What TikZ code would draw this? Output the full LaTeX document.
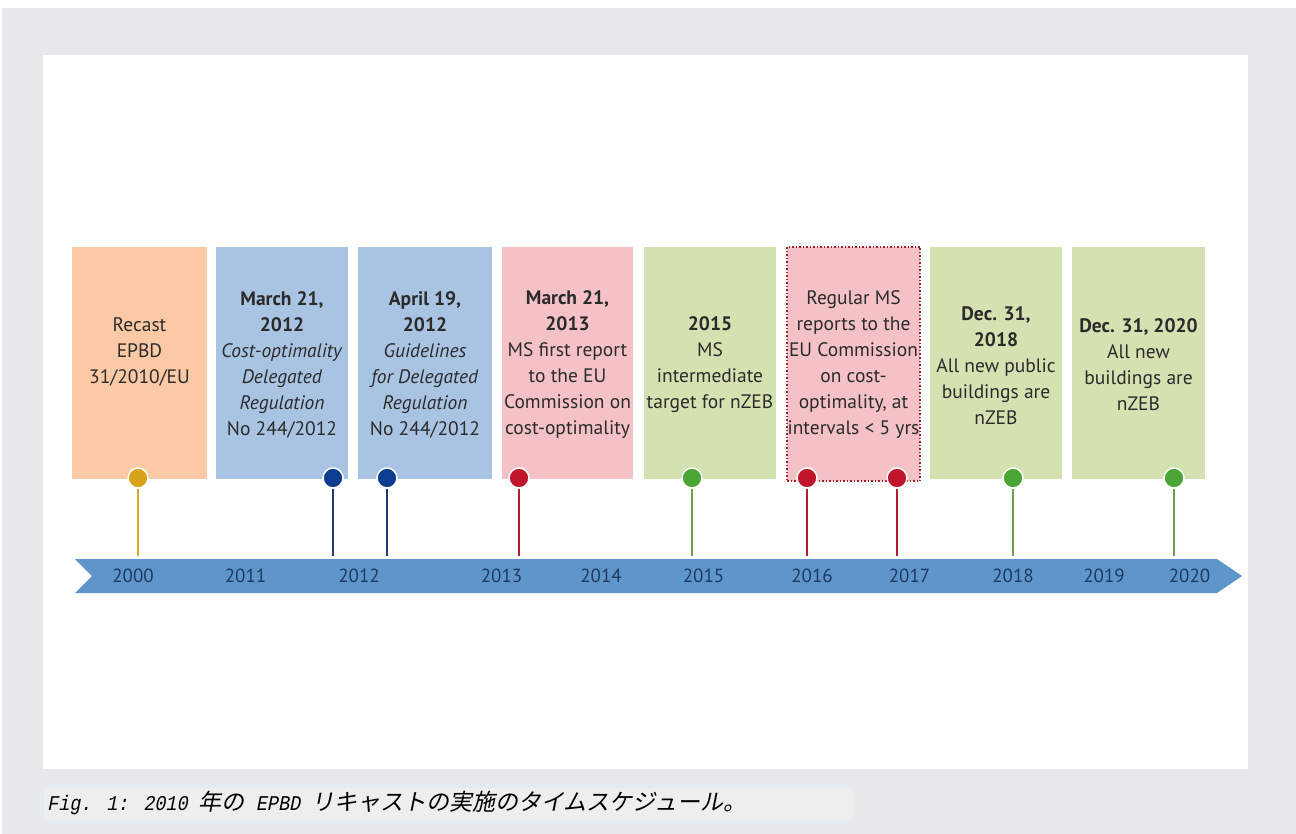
\documentclass[tikz,border=0pt]{standalone}
\usepackage{fontspec}
\setmainfont{PT Sans}
\newfontfamily\cjk[FakeSlant=0.2]{Noto Sans CJK JP}
\newfontfamily\capmono[FakeSlant=0.2, FakeStretch=0.88]{Liberation Mono}
\definecolor{bggray}{HTML}{E6EAED}
\definecolor{capgray}{HTML}{EEEEEE}
\definecolor{orangebox}{HTML}{FBC9A5}
\definecolor{bluebox}{HTML}{A9C4E2}
\definecolor{pinkbox}{HTML}{F4C2C6}
\definecolor{greenbox}{HTML}{D4E2B2}
\definecolor{axisblue}{HTML}{5E96CC}
\definecolor{yearblue}{HTML}{1E3A60}
\definecolor{pingold}{HTML}{D9A21B}
\definecolor{pinblue}{HTML}{0C3D8F}
\definecolor{pinred}{HTML}{C0152A}
\definecolor{pingreen}{HTML}{4AA534}
\definecolor{stemgold}{HTML}{D4A828}
\definecolor{stemblue}{HTML}{1C3A78}
\definecolor{stemred}{HTML}{B01E2E}
\definecolor{stemgreen}{HTML}{6AA14A}
\definecolor{dotred}{HTML}{A3202C}
\definecolor{txtdark}{HTML}{2B2B2B}
\begin{document}
\begin{tikzpicture}[x=1pt,y=-1pt,
  box/.style={anchor=north west, inner sep=0pt, outer sep=0pt, minimum height=232pt},
  txt/.style={align=center, inner sep=0pt, text=txtdark, font=\fontsize{19.5}{26}\selectfont},
  year/.style={inner sep=0pt, text=yearblue, font=\fontsize{19}{22}\selectfont},
  pin/.style={circle, draw=white, line width=1.5pt, minimum size=20pt, inner sep=0pt},
  stem/.style={line width=2.5pt}]
\useasboundingbox (0,0) rectangle (1296,834);
\fill[white] (0,0) rectangle (1296,834);
\fill[bggray] (2,8) rectangle (1296,834);
\fill[white] (43,55) rectangle (1248,769);
% caption
\node[fill=capgray, inner sep=0pt, minimum width=809pt, minimum height=32pt] (capbg) at (448.5,804) {};
\node[anchor=west, inner sep=0pt, text=black] (cap) at (47,803)
  {{\capmono\fontsize{21}{24}\selectfont Fig. 1: 2010 }{\cjk\fontsize{23}{26}\selectfont 年の}{\capmono\fontsize{21}{24}\selectfont{} EPBD }{\cjk\fontsize{23}{26}\selectfont リキャストの実施のタイムスケジュール。}};
% boxes
\node[box, fill=orangebox, minimum width=135pt] (b1) at (72,247) {};
\node[box, fill=bluebox, minimum width=132pt] (b2) at (216,247) {};
\node[box, fill=bluebox, minimum width=134pt] (b3) at (358,247) {};
\node[box, fill=pinkbox, minimum width=131pt] (b4) at (502,247) {};
\node[box, fill=greenbox, minimum width=132pt] (b5) at (644,247) {};
\node[box, fill=pinkbox, draw=dotred, dotted, line width=1.5pt, minimum width=133pt, minimum height=234pt] (b6) at (787,247) {};
\node[box, fill=greenbox, minimum width=132pt] (b7) at (930,247) {};
\node[box, fill=greenbox, minimum width=133pt] (b8) at (1072,247) {};
% texts
\node[txt] (t1) at (139.5,351.5) {Recast\\EPBD\\31/2010/EU};
\node[txt] (t2) at (282,365) {\textbf{March 21,}\\\textbf{2012}\\\textit{Cost-optimality}\\\textit{Delegated}\\\textit{Regulation}\\No 244/2012};
\node[txt] (t3) at (425,365) {\textbf{April 19,}\\\textbf{2012}\\\textit{Guidelines}\\\textit{for Delegated}\\\textit{Regulation}\\No 244/2012};
\node[txt] (t4) at (567.5,365) {\textbf{March 21,}\\\textbf{2013}\\MS first report\\to the EU\\Commission on\\cost-optimality};
\node[txt] (t5) at (710,365) {\textbf{2015}\\MS\\intermediate\\target for nZEB};
\node[txt] (t6) at (853.5,365) {Regular MS\\reports to the\\EU Commission\\on cost-\\optimality, at\\intervals < 5 yrs};
\node[txt] (t7) at (996,365.5) {\textbf{Dec. 31,}\\\textbf{2018}\\All new public\\buildings are\\nZEB};
\node[txt] (t8) at (1138.5,364.5) {\textbf{Dec. 31, 2020}\\All new\\buildings are\\nZEB};
% axis
\fill[axisblue] (75,559) -- (1217,559) -- (1242,576) -- (1217,593) -- (75,593) -- (92,576) -- cycle;
\foreach \nm/\xx in {2000/133,2011/245.5,2012/359,2013/501.5,2014/601,2015/703.5,2016/812,2017/909.5,2018/1013,2019/1104,2020/1189.5}
  \node[year] (y\nm) at (\xx,576) {\nm};
% pins
\node[pin, fill=pingold] (p1) at (138,478) {};
\node[pin, fill=pinblue] (p2) at (333,478) {};
\node[pin, fill=pinblue] (p3) at (387,478) {};
\node[pin, fill=pinred] (p4) at (519,478) {};
\node[pin, fill=pingreen] (p5) at (692,478) {};
\node[pin, fill=pinred] (p6) at (807,478) {};
\node[pin, fill=pinred] (p7) at (897,478) {};
\node[pin, fill=pingreen] (p8) at (1013,478) {};
\node[pin, fill=pingreen] (p9) at (1174,478) {};
% pin end points on axis
\coordinate (e1) at (138,556);
\coordinate (e2) at (333,556);
\coordinate (e3) at (387,556);
\coordinate (e4) at (519,556);
\coordinate (e5) at (692,556);
\coordinate (e6) at (807,556);
\coordinate (e7) at (897,556);
\coordinate (e8) at (1013,556);
\coordinate (e9) at (1174,556);
% stems
\draw[stem, stemgold, line width=2pt] (p1) -- (e1);
\draw[stem, stemblue] (p2) -- (e2);
\draw[stem, stemblue] (p3) -- (e3);
\draw[stem, stemred] (p4) -- (e4);
\draw[stem, stemgreen] (p5) -- (e5);
\draw[stem, stemred] (p6) -- (e6);
\draw[stem, stemred] (p7) -- (e7);
\draw[stem, stemgreen] (p8) -- (e8);
\draw[stem, stemgreen] (p9) -- (e9);
\end{tikzpicture}
\end{document}
